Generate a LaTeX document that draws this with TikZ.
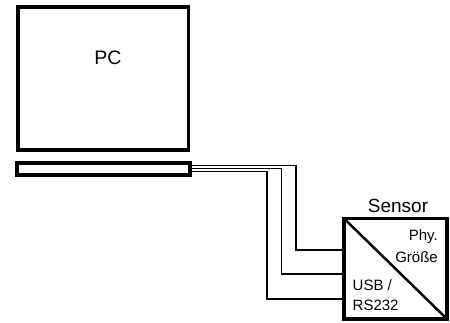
\documentclass[tikz,border=0pt]{standalone}
\usepackage{fontspec}
\setmainfont{Liberation Sans}
\begin{document}
\begin{tikzpicture}[x=1pt,y=-1pt,
  thick box/.style={draw=black,line width=3.8pt,fill=white},
  wire/.style={draw=black,line width=1.1pt},
  lbl/.style={inner sep=0pt,font=\fontsize{15}{17}\selectfont}]
\useasboundingbox (0,0) rectangle (450,322);
\draw[thick box] (18,7) rectangle (188.5,150);
\node[inner sep=0pt,font=\fontsize{19.5}{21}\selectfont] (pc) at (108,58) {PC};
% wires
\coordinate (w1s) at (190,165.7);
\coordinate (w2s) at (190,168.8);
\coordinate (w3s) at (190,171.8);
\coordinate (w1e) at (344,250);
\coordinate (w2e) at (344,274);
\coordinate (w3e) at (344,299);
\draw[wire] (w1s) -| (296,250) -- (w1e);
\draw[wire] (w2s) -| (281.7,274) -- (w2e);
\draw[wire] (w3s) -| (267,299) -- (w3e);
\draw[thick box,line width=3.5pt] (17,163) rectangle (190,175);
% sensor
\draw[thick box] (344,218.5) coordinate (stl) rectangle (447,319) coordinate (sbr);
\draw[line width=2.5pt] (stl) -- (sbr);
\node[inner sep=0pt,font=\fontsize{19}{21}\selectfont] (sensor) at (398,206) {Sensor};
\node[lbl,anchor=east] (phy) at (438,237) {Phy.};
\node[lbl,anchor=east] (gr) at (438,257.5) {Größe};
\node[lbl,anchor=west] (usb) at (352.5,285) {USB /};
\node[lbl,anchor=west] (rs) at (352.5,305) {RS232};
\end{tikzpicture}
\end{document}
